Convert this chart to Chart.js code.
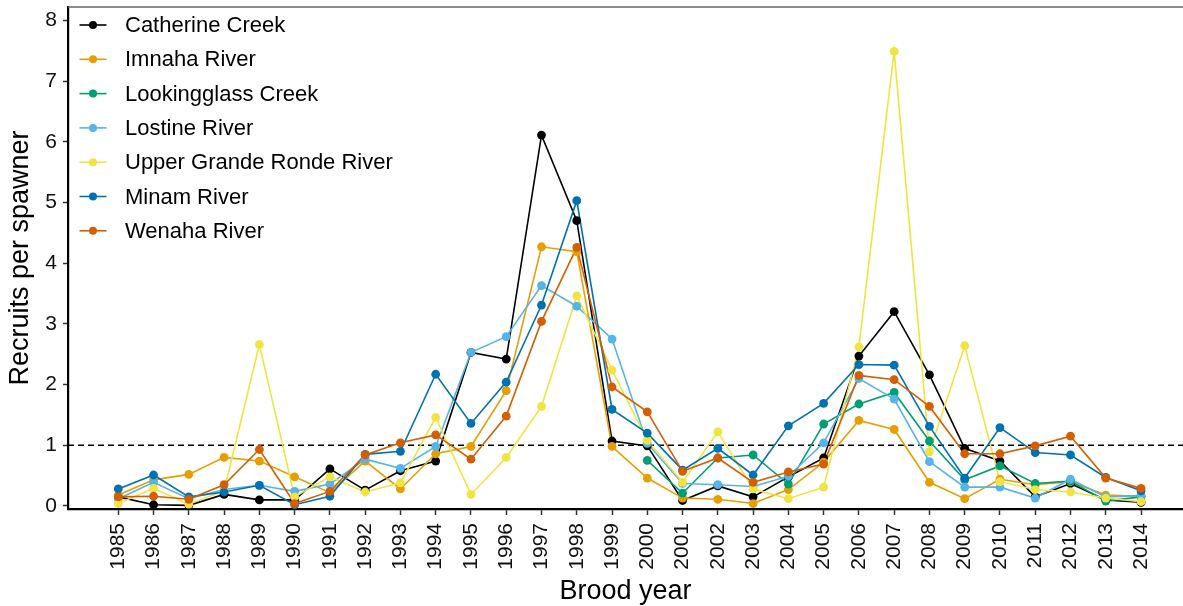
<!DOCTYPE html>
<html>
<head>
<meta charset="utf-8">
<script src="https://cdn.jsdelivr.net/npm/chart.js@4/dist/chart.umd.min.js"></script>
<style>
  html, body { margin: 0; padding: 0; background: #ffffff; overflow: hidden; }
  #wrap { position: relative; width: 1183px; height: 606px; }
</style>
</head>
<body>
<div id="wrap"><canvas id="c" width="1183" height="606"></canvas></div>
<script>
const years = [1985,1986,1987,1988,1989,1990,1991,1992,1993,1994,1995,1996,1997,1998,1999,2000,2001,2002,2003,2004,2005,2006,2007,2008,2009,2010,2011,2012,2013,2014];
const yTicks = [0,1,2,3,4,5,6,7,8];

const catherineCreek = [0.15,0.02,0.01,0.19,0.10,0.10,0.61,0.26,0.58,0.74,2.53,2.42,6.11,4.70,1.07,0.99,0.09,0.33,0.15,0.48,0.79,2.47,3.20,2.16,0.95,0.74,0.15,0.37,0.10,0.06];
const imnahaRiver = [0.18,0.43,0.52,0.80,0.74,0.48,0.22,0.74,0.28,0.86,0.98,1.90,4.27,4.19,0.98,0.46,0.13,0.11,0.04,0.27,0.72,1.41,1.26,0.39,0.12,0.44,0.35,0.40,0.18,0.16];
const lookingglassCreek = [null,null,null,null,null,null,null,null,null,null,null,null,null,null,null,0.75,0.21,0.79,0.84,0.36,1.35,1.68,1.87,1.07,0.43,0.66,0.37,0.41,0.08,0.15];
const lostineRiver = [0.12,0.39,0.12,0.27,0.34,0.24,0.36,0.77,0.62,0.98,2.53,2.79,3.63,3.29,2.75,1.03,0.37,0.35,0.32,0.49,1.04,2.10,1.76,0.73,0.31,0.31,0.13,0.44,0.15,0.17];
const upperGrandeRondeRiver = [0.04,0.29,0.03,0.25,2.66,0.15,0.48,0.23,0.38,1.46,0.19,0.80,1.64,3.46,2.24,1.08,0.39,1.22,0.28,0.12,0.31,2.62,7.49,0.89,2.64,0.40,0.27,0.23,0.13,0.07];
const minamRiver = [0.28,0.51,0.15,0.23,0.34,0.02,0.16,0.85,0.90,2.17,1.36,2.04,3.31,5.03,1.59,1.20,0.59,0.95,0.51,1.32,1.69,2.33,2.32,1.31,0.46,1.29,0.88,0.84,0.47,0.25];
const wenahaRiver = [0.15,0.16,0.11,0.35,0.93,0.04,0.24,0.84,1.04,1.17,0.77,1.48,3.04,4.26,1.96,1.55,0.57,0.79,0.39,0.56,0.69,2.15,2.08,1.64,0.86,0.86,0.99,1.15,0.46,0.29];

const seriesNames = ["Catherine Creek","Imnaha River","Lookingglass Creek","Lostine River","Upper Grande Ronde River","Minam River","Wenaha River"];
const seriesValues = [catherineCreek, imnahaRiver, lookingglassCreek, lostineRiver, upperGrandeRondeRiver, minamRiver, wenahaRiver];
const seriesColors = ["#000000","#E69F00","#009E73","#56B4E9","#F0E442","#0072B2","#D55E00"];
const refLine = 1;

const FONT = "'Liberation Sans', Arial, Helvetica, sans-serif";

function pts(vals) { return years.map((y, i) => ({ x: y, y: vals[i] })); }

const datasets = [];
seriesNames.forEach((name, i) => {
  datasets.push({
    label: name, data: pts(seriesValues[i]),
    borderColor: seriesColors[i], backgroundColor: seriesColors[i],
    borderWidth: 1.6, pointRadius: 0, pointHoverRadius: 0,
    spanGaps: false, tension: 0, order: 20 - i
  });
  datasets.push({
    label: name, data: pts(seriesValues[i]), showLine: false,
    borderColor: seriesColors[i], backgroundColor: seriesColors[i],
    pointRadius: 4.4, pointBorderWidth: 0, pointHoverRadius: 4.4,
    order: 6 - i
  });
});

const decor = {
  id: 'decor',
  beforeDatasetsDraw(chart) {
    const { ctx, chartArea, scales } = chart;
    const yp = scales.y.getPixelForValue(refLine);
    ctx.save();
    ctx.strokeStyle = '#000';
    ctx.lineWidth = 1.5;
    ctx.setLineDash([6, 4]);
    ctx.beginPath();
    ctx.moveTo(chartArea.left, yp);
    ctx.lineTo(chartArea.right, yp);
    ctx.stroke();
    ctx.restore();
  },
  afterDraw(chart) {
    const { ctx, chartArea } = chart;
    ctx.save();
    ctx.strokeStyle = '#666';
    ctx.lineWidth = 1.6;
    ctx.beginPath();
    ctx.moveTo(chartArea.left, chartArea.top);
    ctx.lineTo(chartArea.right, chartArea.top);
    ctx.stroke();
    const x0 = 79.5, x1 = 106.5, tx = 125;
    const rowY0 = 25, dy = 34.3;
    ctx.font = "22px " + FONT;
    ctx.textBaseline = 'middle';
    ctx.textAlign = 'left';
    seriesNames.forEach((name, i) => {
      const yy = rowY0 + i * dy;
      ctx.strokeStyle = seriesColors[i];
      ctx.fillStyle = seriesColors[i];
      ctx.lineWidth = 1.6;
      ctx.beginPath();
      ctx.moveTo(x0, yy); ctx.lineTo(x1, yy); ctx.stroke();
      ctx.beginPath();
      ctx.arc((x0 + x1) / 2, yy, 4, 0, Math.PI * 2);
      ctx.fill();
      ctx.fillStyle = '#000';
      ctx.fillText(name, tx, yy + 1);
    });
    ctx.restore();
  }
};

new Chart(document.getElementById('c'), {
  type: 'line',
  data: { datasets },
  options: {
    responsive: false,
    animation: false,
    events: [],
    layout: { autoPadding: false, padding: { left: 0, right: 0, top: 7, bottom: 0 } },
    plugins: { legend: { display: false }, tooltip: { enabled: false } },
    scales: {
      x: {
        type: 'linear',
        min: 1983.574, max: 2015.19,
        afterBuildTicks(scale) { scale.ticks = years.map(v => ({ value: v })); },
        afterFit(scale) { scale.height = 97; scale.paddingLeft = 0; scale.paddingRight = 0; },
        ticks: {
          autoSkip: false, minRotation: 90, maxRotation: 90, padding: 8,
          color: '#111', font: { family: FONT, size: 21 },
          callback: (v) => String(v)
        },
        grid: { drawOnChartArea: false, drawTicks: true, tickLength: 6, tickColor: '#333', tickWidth: 1.5 },
        border: { display: true, color: '#000', width: 2.2 },
        title: { display: true, text: 'Brood year', color: '#000', font: { family: FONT, size: 27, lineHeight: 1.1 }, padding: { top: 0, bottom: 0 } }
      },
      y: {
        type: 'linear',
        min: -0.05, max: 8.22,
        afterBuildTicks(scale) { scale.ticks = yTicks.map(v => ({ value: v })); },
        afterFit(scale) { scale.width = 68; scale.paddingTop = 0; scale.paddingBottom = 0; },
        ticks: { padding: 6, color: '#111', font: { family: FONT, size: 21 }, callback: (v) => String(v) },
        grid: { drawOnChartArea: false, drawTicks: true, tickLength: 5, tickColor: '#333', tickWidth: 1.5 },
        border: { display: true, color: '#000', width: 2.2 },
        title: { display: true, text: 'Recruits per spawner', color: '#000', font: { family: FONT, size: 27, lineHeight: 1.1 }, padding: { top: 6, bottom: 0 } }
      }
    }
  },
  plugins: [decor]
});
</script>
</body>
</html>
